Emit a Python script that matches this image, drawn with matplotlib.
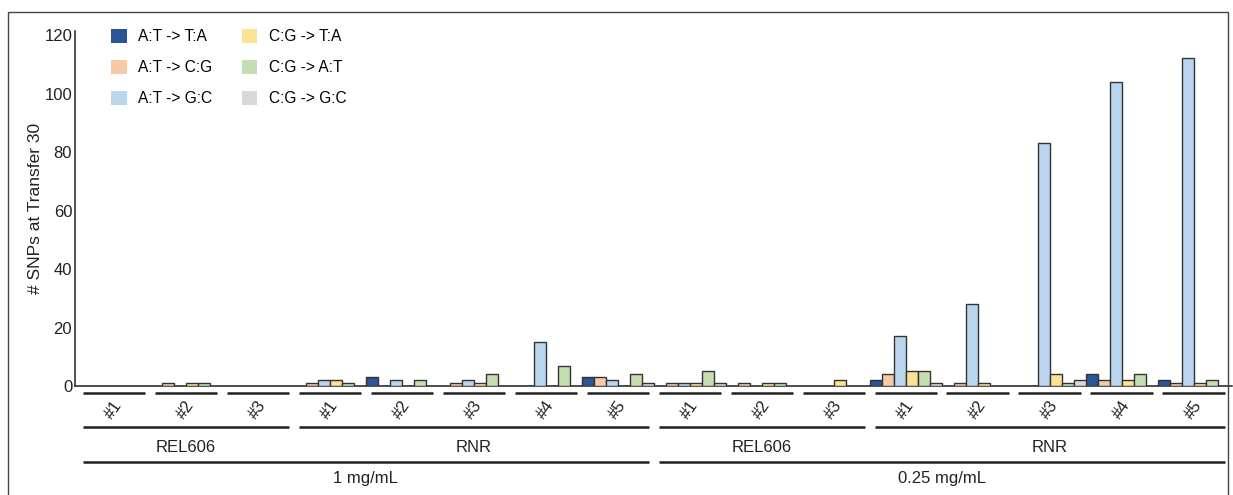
import matplotlib
matplotlib.use("Agg")
import matplotlib.pyplot as plt
from matplotlib.patches import Patch, Rectangle

plt.rcParams['font.family'] = ['Liberation Sans', 'DejaVu Sans']

# --- data ---
sample_labels = ["#1", "#2", "#3", "#1", "#2", "#3", "#4", "#5",
                 "#1", "#2", "#3", "#1", "#2", "#3", "#4", "#5"]
strains = ["REL606", "RNR", "REL606", "RNR"]
strain_sizes = [3, 5, 3, 5]
concentrations = ["1 mg/mL", "0.25 mg/mL"]
conc_sizes = [8, 8]

mut_types = ["A:T -> T:A", "A:T -> C:G", "A:T -> G:C",
             "C:G -> T:A", "C:G -> A:T", "C:G -> G:C"]
colors = ["#2a5597", "#f6c9a9", "#bad5ee", "#fce295", "#c4deb1", "#d9d9d9"]

at_ta = [0, 0, 0, 0, 3, 0, 0, 3, 0, 0, 0, 2, 0, 0, 4, 2]
at_cg = [0, 1, 0, 1, 0, 1, 0, 3, 1, 1, 0, 4, 1, 0, 2, 1]
at_gc = [0, 0, 0, 2, 2, 2, 15, 2, 1, 0, 0, 17, 28, 83, 104, 112]
cg_ta = [0, 1, 0, 2, 0, 1, 0, 0, 1, 1, 2, 5, 1, 4, 2, 1]
cg_at = [0, 1, 0, 1, 2, 4, 7, 4, 5, 1, 0, 5, 0, 1, 4, 2]
cg_gc = [0, 0, 0, 0, 0, 0, 0, 1, 1, 0, 0, 1, 0, 2, 0, 0]
series = [at_ta, at_cg, at_gc, cg_ta, cg_at, cg_gc]

W, H = 1233, 495
fig = plt.figure(figsize=(W / 100, H / 100), dpi=100)
ax = fig.add_axes([75 / W, 109 / H, 1157 / W, 355 / H])

n_types = len(series)
for k, vals in enumerate(series):
    xs = [g * n_types + k + 0.5 for g in range(len(vals))]
    ax.bar(xs, vals, width=1.0, color=colors[k], edgecolor="#333333",
           linewidth=1.0, zorder=3)

ax.set_xlim(-0.25, 96.2)
ax.set_ylim(0, 121.4)
ax.set_yticks([0, 20, 40, 60, 80, 100, 120])
ax.set_xticks([])
ax.tick_params(axis="y", length=0, pad=2, labelsize=12, labelcolor="#222222")
for s in ["top", "right"]:
    ax.spines[s].set_visible(False)
for s in ["left", "bottom"]:
    ax.spines[s].set_color("#222222")
    ax.spines[s].set_linewidth(1.1)
ax.set_ylabel("# SNPs at Transfer 30", fontsize=12.5, color="#222222", labelpad=1)

# legend
handles = [Patch(facecolor=c, edgecolor="none") for c in colors]
fig.legend(handles, mut_types, loc="upper left", ncol=2, frameon=False,
           bbox_to_anchor=(111 / W, 1 - 29 / H), fontsize=11.2,
           handlelength=1.0, handleheight=1.0, handletextpad=0.75,
           labelspacing=1.0, columnspacing=1.9, borderpad=0, borderaxespad=0)

# hierarchical category labels below the axis
trans = ax.get_xaxis_transform()


def ypos(px):
    return (386 - px) / 355


line_kw = dict(transform=trans, color="#222222", lw=1.8, clip_on=False,
               solid_capstyle="butt")
for g, lab in enumerate(sample_labels):
    c = g * n_types + 3
    ax.plot([c - 2.6, c + 2.6], [ypos(393)] * 2, **line_kw)
    ax.text(c, ypos(410), lab, rotation=55, ha="center", va="center",
            fontsize=12, color="#222222", transform=trans)

start = 0
for lab, n in zip(strains, strain_sizes):
    x0 = start * n_types + 3 - 2.6
    x1 = (start + n - 1) * n_types + 3 + 2.6
    ax.plot([x0, x1], [ypos(427)] * 2, **line_kw)
    ax.text((x0 + x1) / 2, ypos(447), lab, ha="center", va="center",
            fontsize=12, color="#222222", transform=trans)
    start += n

start = 0
for lab, n in zip(concentrations, conc_sizes):
    x0 = start * n_types + 3 - 2.6
    x1 = (start + n - 1) * n_types + 3 + 2.6
    ax.plot([x0, x1], [ypos(462)] * 2, **line_kw)
    ax.text((x0 + x1) / 2, ypos(478), lab, ha="center", va="center",
            fontsize=12, color="#222222", transform=trans)
    start += n

# thin frame around the whole panel
fig.add_artist(Rectangle((8 / W, -0.05), (1228 - 8) / W, 1.05 - 12 / H,
                         transform=fig.transFigure, fill=False,
                         edgecolor="#444444", lw=1.0))

fig.savefig("out.png", dpi=100)
